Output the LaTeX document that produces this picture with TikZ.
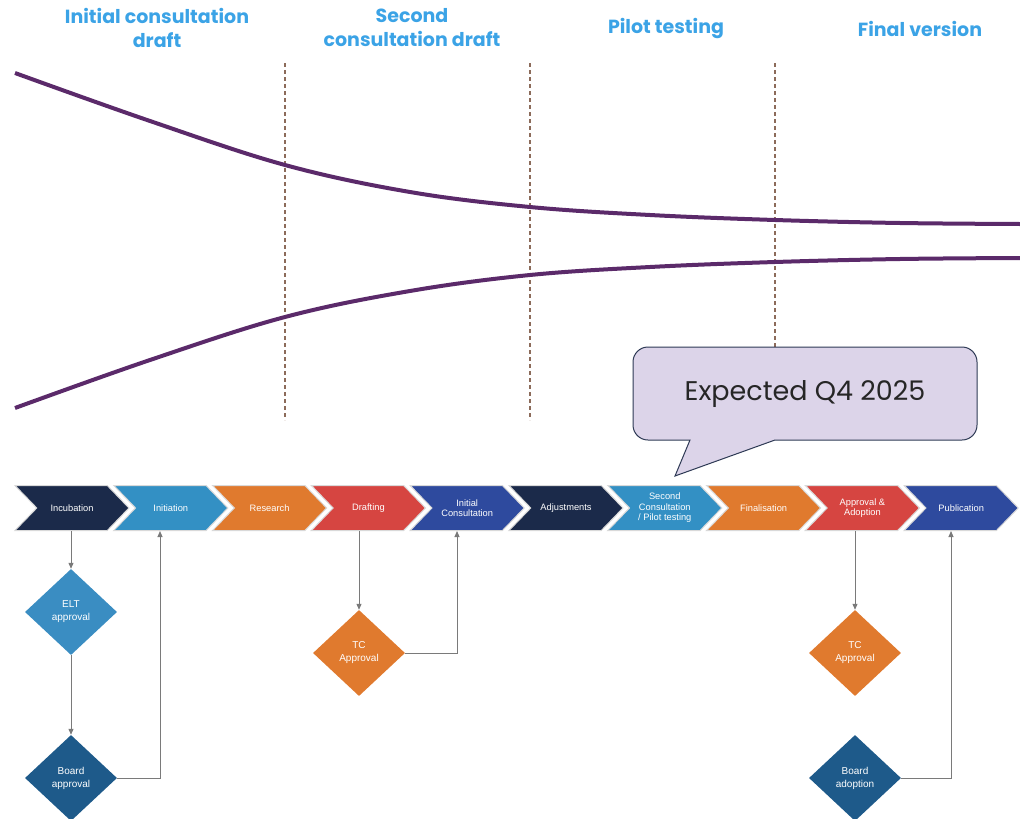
\documentclass[tikz,border=0pt]{standalone}
\usepackage{fontspec}
\setmainfont{Liberation Sans}
\newfontfamily\headfont{Poppins}
\usetikzlibrary{shapes.geometric,shapes.symbols,arrows.meta}
\definecolor{cnavy}{HTML}{1B2A4A}
\definecolor{cmid}{HTML}{3390C4}
\definecolor{corange}{HTML}{E07A2E}
\definecolor{cred}{HTML}{D64541}
\definecolor{croyal}{HTML}{2E4A9E}
\definecolor{dlight}{HTML}{3A8DC2}
\definecolor{ddark}{HTML}{1E5A8A}
\definecolor{cpurple}{HTML}{5B2A6A}
\definecolor{cbrown}{HTML}{8C6B5A}
\definecolor{chead}{HTML}{3BA3E6}
\definecolor{cfill}{HTML}{DCD4E9}
\definecolor{cline}{HTML}{2E3A55}
\definecolor{cconn}{HTML}{7A7A7A}
\tikzset{
  chev/.style={signal, signal to=east, signal from=west, signal pointer angle=92,
    minimum width=114pt, minimum height=45pt, inner sep=0pt, draw=gray!30, line width=1pt,
    fill=#1, text=white, font=\fontsize{9.3}{10.5}\selectfont, align=center},
  dia/.style={diamond, minimum width=92pt, minimum height=86pt, inner sep=0pt,
    fill=#1, text=white, font=\fontsize{10}{13}\selectfont, align=center},
  conn/.style={draw=cconn, line width=1pt, -{Triangle[length=6pt,width=5pt]}},
  head/.style={text=chead, font=\headfont\bfseries\fontsize{19}{24}\selectfont, align=center},
  curve/.style={draw=cpurple, line width=4pt},
  divider/.style={draw=cbrown, line width=1.2pt, dash pattern=on 4pt off 3pt},
}
\begin{document}
\begin{tikzpicture}[x=1pt,y=-1pt]
\useasboundingbox (0,0) rectangle (1020,819);
\clip (0,0) rectangle (1020,819);
% headers
\node[head] (h1) at (157,28) {Initial consultation\\draft};
\node[head] (h2) at (412,28) {Second\\consultation draft};
\node[head] (h3) at (666,29) {Pilot testing};
\node[head] (h4) at (920,29) {Final version};
% dividers
\draw[divider] (285,63) -- (285,420);
\draw[divider] (530,63) -- (530,420);
\draw[divider] (775,63) -- (775,420);
% curves
\draw[curve] plot[smooth, tension=0.6] coordinates {(15,73) (150,121) (285,165) (410,192) (530,207) (650,215) (775,220) (900,223) (1020,224)};
\draw[curve] plot[smooth, tension=0.6] coordinates {(15,408) (150,360) (285,317) (410,291) (530,275) (650,267) (775,262) (900,259) (1020,258)};
% callout
\draw[fill=cfill, draw=cline, line width=1pt] (690,440) -- (675,476) -- (775,440)
  {[rounded corners=15pt] -- (977,440) -- (977,347) -- (633,347) -- (633,440)} -- cycle;
\node[font=\headfont\fontsize{27}{30}\selectfont, text=black!85] (exp) at (805,394) {Expected Q4 2025};
% chevrons
\node[chev=cnavy]   (c1)  at (72,508)    {Incubation};
\node[chev=cmid]    (c2)  at (170.8,508) {Initiation};
\node[chev=corange] (c3)  at (269.6,508) {Research};
\node[chev=cred]    (c4)  at (368.4,508) {Drafting};
\node[chev=croyal]  (c5)  at (467.2,508) {Initial\\Consultation};
\node[chev=cnavy]   (c6)  at (566,508)   {Adjustments};
\node[chev=cmid]    (c7)  at (664.8,508) {Second\\Consultation\\/ Pilot testing};
\node[chev=corange] (c8)  at (763.6,508) {Finalisation};
\node[chev=cred]    (c9)  at (862.4,508) {Approval \&\\Adoption};
\node[chev=croyal]  (c10) at (961.2,508) {Publication};
% diamonds
\node[dia=dlight]  (elt)   at (71,612)  {ELT\\approval};
\node[dia=ddark]   (board) at (71,778)  {Board\\approval};
\node[dia=corange] (tc1)   at (359,653) {TC\\Approval};
\node[dia=corange] (tc2)   at (855,653) {TC\\Approval};
\node[dia=ddark]   (bada)  at (855,778) {Board\\adoption};
% connectors
\draw[conn] (elt.north |- c1.south) -- (elt.north);
\draw[conn] (elt.south) -- (board.north);
\draw[conn] (board.east) -| ([xshift=-10.8pt]c2.south);
\draw[conn] (tc1.north |- c4.south) -- (tc1.north);
\draw[conn] (tc1.east) -| ([xshift=-10.2pt]c5.south);
\draw[conn] (tc2.north |- c9.south) -- (tc2.north);
\draw[conn] (bada.east) -| ([xshift=-10.2pt]c10.south);
\end{tikzpicture}
\end{document}
